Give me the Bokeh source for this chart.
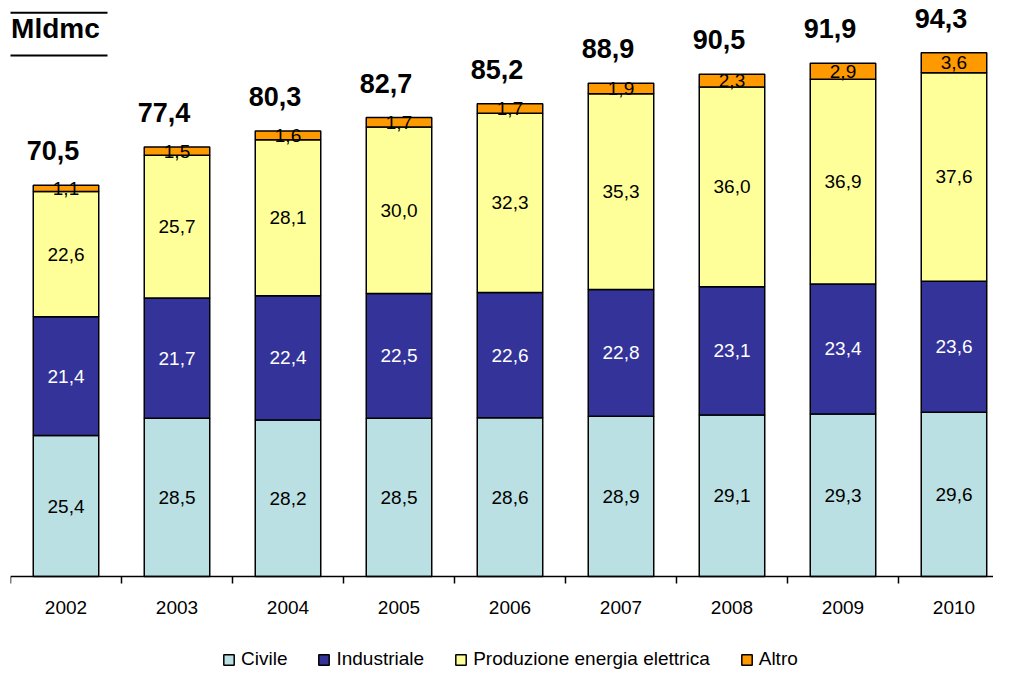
from bokeh.plotting import figure
from bokeh.models import ColumnDataSource, Label, Arrow, Legend, LegendItem, Range1d, Span
from bokeh.embed import file_html
from bokeh.resources import INLINE
from bokeh.core.properties import value

years = ["2002", "2003", "2004", "2005", "2006", "2007", "2008", "2009", "2010"]
civile = [25.4, 28.5, 28.2, 28.5, 28.6, 28.9, 29.1, 29.3, 29.6]
industriale = [21.4, 21.7, 22.4, 22.5, 22.6, 22.8, 23.1, 23.4, 23.6]
produzione = [22.6, 25.7, 28.1, 30.0, 32.3, 35.3, 36.0, 36.9, 37.6]
altro = [1.1, 1.5, 1.6, 1.7, 1.7, 1.9, 2.3, 2.9, 3.6]
totali = [70.5, 77.4, 80.3, 82.7, 85.2, 88.9, 90.5, 91.9, 94.3]
series_names = ["Civile", "Industriale", "Produzione energia elettrica", "Altro"]
colors = ["#BBE0E3", "#333399", "#FFFF99", "#FF9900"]
label_colors = ["black", "white", "black", "black"]
unit_title = "Mldmc"

FONT = "Liberation Sans"
W, H = 993, 670
PX_PER_UNIT = 5.549
BASELINE_PX = 576


def fmt(v):
    return f"{v:.1f}".replace(".", ",")


series = [civile, industriale, produzione, altro]
keys = ["civile", "industriale", "produzione", "altro"]
n = len(years)
xs = [i + 0.5 for i in range(n)]
bounds = list(range(n + 1))

data = {"x": xs}
for k, s in zip(keys, series):
    data[k] = s
src = ColumnDataSource(data)

y_start = -(H - BASELINE_PX) / PX_PER_UNIT
y_end = BASELINE_PX / PX_PER_UNIT

p = figure(width=W, height=H, output_backend="svg", toolbar_location=None,
           x_range=Range1d(0, 8.856), y_range=Range1d(y_start, y_end),
           min_border_left=10, min_border_right=0, min_border_top=0, min_border_bottom=0)
p.outline_line_color = None
p.xgrid.visible = False
p.ygrid.visible = False
p.xaxis.visible = False
p.yaxis.visible = False
p.background_fill_color = "white"
p.border_fill_color = "white"

renderers = p.vbar_stack(keys, x="x", width=0.59, source=src, color=colors,
                         line_color="black", line_width=1.5)

# baseline (category axis line) and boundary ticks
p.add_layout(Span(location=0, dimension="width", line_color="black", line_width=1.5))
tick_len = 7 / PX_PER_UNIT
p.segment(x0=bounds, y0=[0] * len(bounds), x1=bounds, y1=[-tick_len] * len(bounds),
          line_color="black", line_width=1.5)

# year labels
p.text(x=xs, y=[0] * n, text=years, text_font=value(FONT), text_font_size="19px",
       text_color="black", text_align="center", text_baseline="middle", y_offset=31)

# segment labels
lx, ly, lt, lc = [], [], [], []
bottoms = [0.0] * n
for s, c in zip(series, label_colors):
    for i, v in enumerate(s):
        lx.append(xs[i])
        ly.append(bottoms[i] + v / 2)
        lt.append(fmt(v))
        lc.append(c)
        bottoms[i] += v
lsrc = ColumnDataSource(dict(x=lx, y=ly, text=lt, color=lc))
p.text(x="x", y="y", text="text", text_color="color", source=lsrc,
       text_font=value(FONT), text_font_size="19px",
       text_align="center", text_baseline="middle")

# totals
tsrc = ColumnDataSource(dict(x=xs, y=bottoms, text=[fmt(t) for t in totali]))
p.text(x="x", y="y", text="text", source=tsrc, text_font=value(FONT),
       text_font_size="27px", text_font_style="bold", text_color="black",
       text_align="center", text_baseline="bottom", x_offset=-13, y_offset=-25)

# title "Mldmc" with rules
p.add_layout(Label(x=0.005, y=98.7, text=unit_title, text_font=FONT, text_font_size="28px",
                   text_font_style="bold", text_baseline="middle", text_color="black"))
for yy in (101.6, 93.9):
    p.add_layout(Arrow(end=None, x_start=-0.01, y_start=yy, x_end=0.874, y_end=yy,
                       line_color="black", line_width=2))

legend = Legend(items=[LegendItem(label=nm, renderers=[r]) for nm, r in zip(series_names, renderers)],
                orientation="horizontal", location=(212, 0),
                border_line_color=None, background_fill_alpha=0,
                label_text_font=FONT, label_text_font_size="19px", label_text_color="black",
                glyph_width=13, glyph_height=13, label_standoff=6, spacing=30,
                padding=0, margin=0, label_height=19)
p.add_layout(legend)

open("out.html", "w").write(file_html(p, INLINE))
